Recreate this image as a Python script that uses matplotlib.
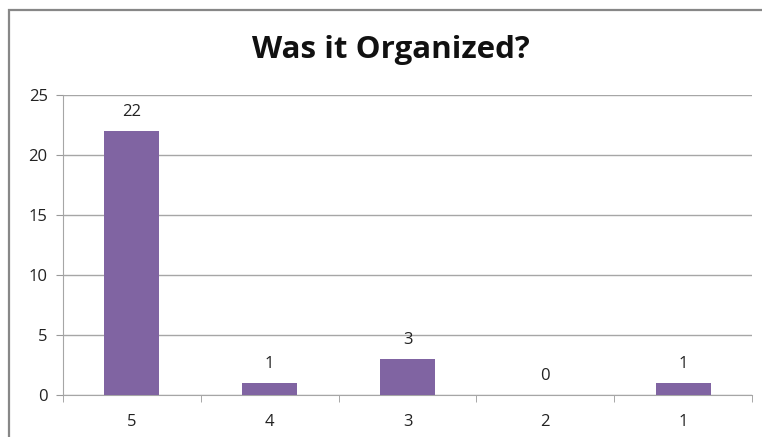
import matplotlib
matplotlib.use("Agg")
import matplotlib.pyplot as plt
from matplotlib.patches import Rectangle

categories = ["5", "4", "3", "2", "1"]
values = [22, 1, 3, 0, 1]
title = "Was it Organized?"

plt.rcParams['font.family'] = ['Open Sans', 'DejaVu Sans']

fig = plt.figure(figsize=(7.62, 4.37), dpi=100)
W, H = 762, 437
# chart border
fig.patches.append(Rectangle((9 / W, -0.1), 1.2, 1 - 10 / H + 0.1, transform=fig.transFigure,
                             fill=False, edgecolor="#878787", linewidth=1.6))

ax = fig.add_axes([63 / W, 1 - 395 / H, (752 - 63) / W, (395 - 95) / H])
x = range(len(categories))
bars = ax.bar(x, values, width=0.4, color="#8064A2", zorder=3)
for xi, v in zip(x, values):
    ax.text(xi, v + 0.9, str(v), ha="center", va="bottom", fontsize=12, color="#222222")

ax.set_xlim(-0.5, len(categories) - 0.5)
ax.set_ylim(0, 25)
ax.set_yticks(range(0, 26, 5))
ax.set_xticks(list(x))
ax.set_xticklabels(categories)
ax.tick_params(axis="y", length=5, color="#999999", labelsize=12, pad=6, labelcolor="#222222")
ax.tick_params(axis="x", length=0, labelsize=12, pad=14, labelcolor="#222222")
# minor ticks at category boundaries
ax.set_xticks([i - 0.5 for i in range(len(categories) + 1)], minor=True)
ax.tick_params(axis="x", which="minor", length=5, color="#999999", direction="out")
ax.grid(axis="y", color="#a6a6a6", linewidth=1, zorder=0)
for s in ["top", "right"]:
    ax.spines[s].set_visible(False)
ax.spines["left"].set_color("#a6a6a6")
ax.spines["bottom"].set_color("#a6a6a6")

fig.text(0.5 + 10 / W, 1 - 50 / H, title, ha="center", va="center", fontsize=22.5, fontweight="bold",
         color="#111111")

fig.savefig("out.png", dpi=100)
